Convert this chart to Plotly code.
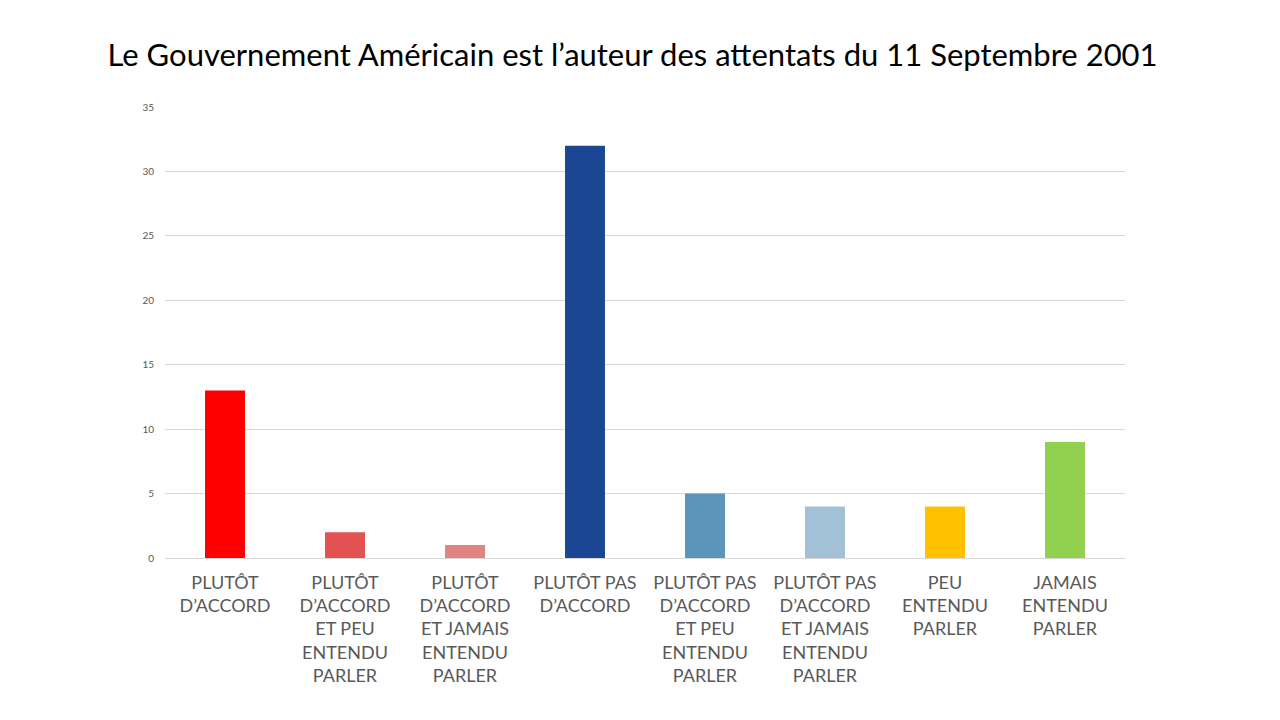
import plotly.graph_objects as go

# categories and counts
categories = [
    "PLUTÔT<br>D’ACCORD",
    "PLUTÔT<br>D’ACCORD<br>ET PEU<br>ENTENDU<br>PARLER",
    "PLUTÔT<br>D’ACCORD<br>ET JAMAIS<br>ENTENDU<br>PARLER",
    "PLUTÔT PAS<br>D’ACCORD",
    "PLUTÔT PAS<br>D’ACCORD<br>ET PEU<br>ENTENDU<br>PARLER",
    "PLUTÔT PAS<br>D’ACCORD<br>ET JAMAIS<br>ENTENDU<br>PARLER",
    "PEU<br>ENTENDU<br>PARLER",
    "JAMAIS<br>ENTENDU<br>PARLER",
]
counts = [13, 2, 1, 32, 5, 4, 4, 9]
colors = ["#FF0000", "#E35252", "#E08383", "#1B4792",
          "#5B95B9", "#A2C1D6", "#FFC000", "#92D050"]

fig = go.Figure(go.Bar(x=categories, y=counts, marker_color=colors,
                       marker_line_width=0))

# page body has an 8px margin, so the figure is a bit smaller and shifted
fig.update_layout(
    width=1272, height=712,
    paper_bgcolor="white", plot_bgcolor="white",
    margin=dict(l=157, r=155, t=99, b=162),
    bargap=0.667,
    showlegend=False,
    font=dict(family="Lato, Open Sans, sans-serif", color="#595959"),
    title=dict(text="Le Gouvernement Américain est l’auteur des attentats du 11 Septembre 2001",
               x=0.491, xanchor="center", y=0.934, yanchor="middle", automargin=False,
               font=dict(size=31, color="black", family="Lato, Open Sans, sans-serif")),
)
fig.update_xaxes(tickfont=dict(size=18, color="#595959"), showline=True,
                 linecolor="#D9D9D9", linewidth=1, ticks="", automargin=False,
                 ticklabelstandoff=8)
fig.update_yaxes(range=[0, 35], dtick=5, gridcolor="#D9D9D9", gridwidth=1,
                 zeroline=False, tickfont=dict(size=10, color="#595959"),
                 ticks="", ticklabelstandoff=10, automargin=False)

fig.write_html("out.html")
